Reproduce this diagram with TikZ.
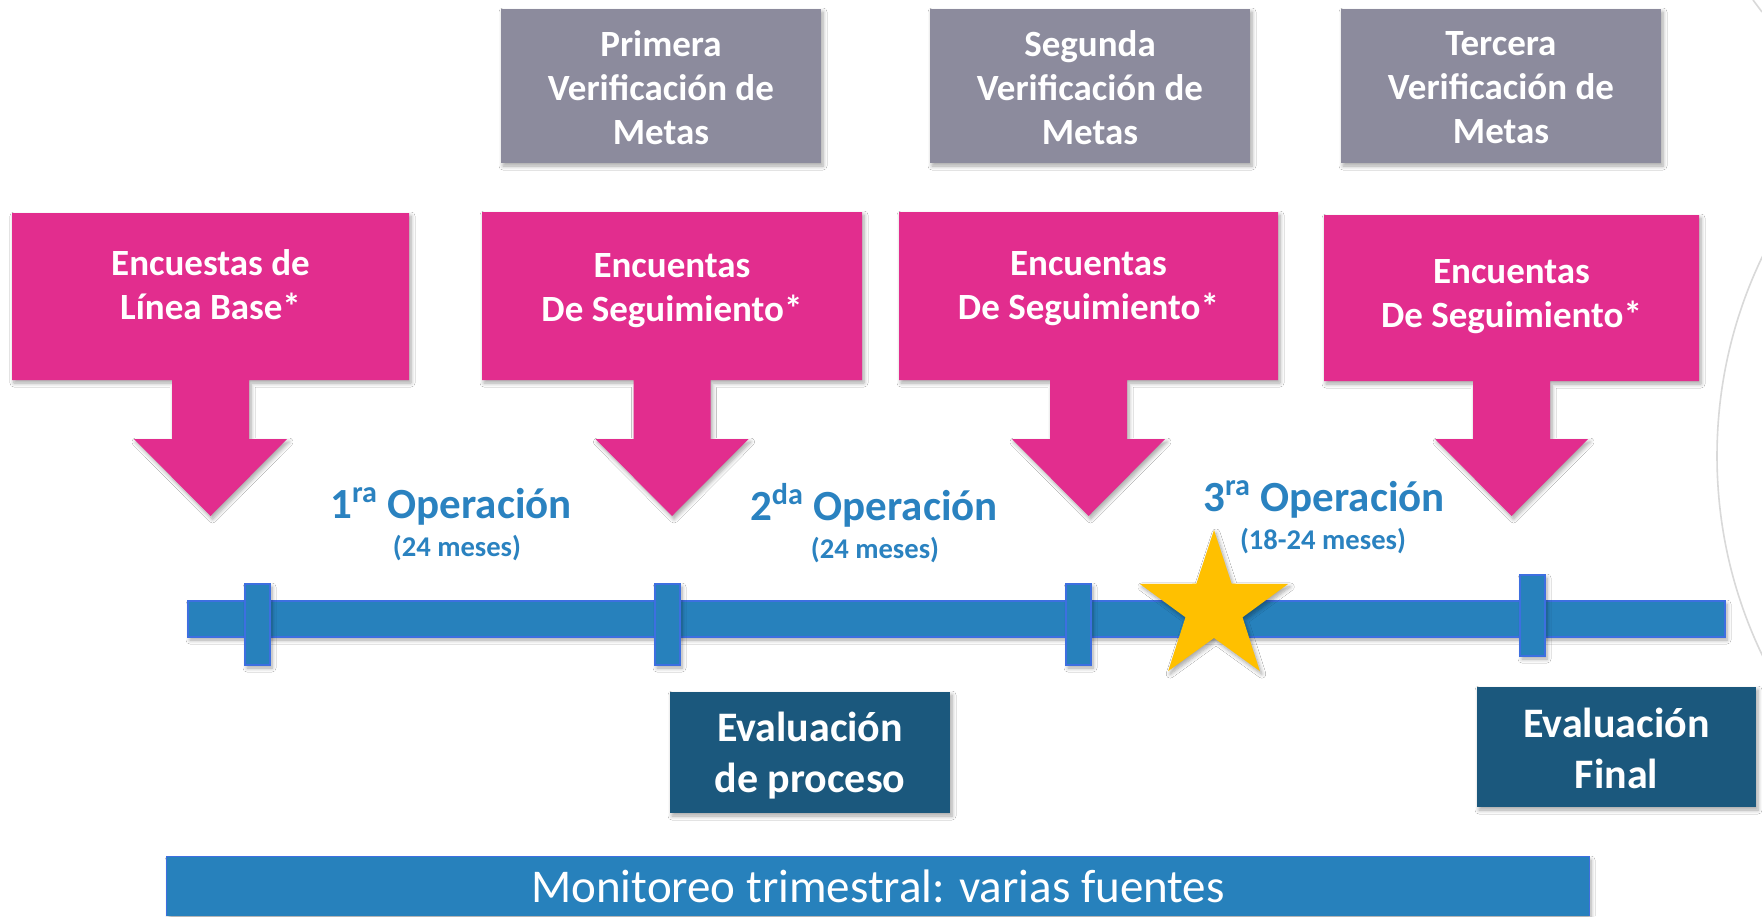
\documentclass[tikz,border=0pt]{standalone}
\usepackage{fontspec}
\setmainfont{Carlito}
\usetikzlibrary{shadows.blur}
\definecolor{pinkc}{HTML}{E22D8E}
\definecolor{greyc}{HTML}{8C8B9D}
\definecolor{barc}{HTML}{2781BC}
\definecolor{barline}{HTML}{3D6FE0}
\definecolor{darkc}{HTML}{1B587D}
\definecolor{opc}{HTML}{2A82C0}
\definecolor{starc}{HTML}{FFC000}
\definecolor{arcc}{HTML}{D9D9D9}
\newcommand\pinkcallout[5]{%
  \fill[pinkshape] (#1,#3) -- (#2,#3) -- (#2,#4) -- ({#5+38.5},#4) -- ({#5+38.5},439)
   -- ({#5+76.5},439) -- (#5,516) -- ({#5-76.5},439) -- ({#5-38.5},439)
   -- ({#5-38.5},#4) -- (#1,#4) -- cycle;}
\begin{document}
\begin{tikzpicture}[x=0.5pt,y=-0.5pt,
  shad/.style={blur shadow={shadow xshift=1pt,shadow yshift=-1.5pt,shadow opacity=35,shadow blur steps=6,shadow blur radius=2pt}},
  pinkshape/.style={fill=pinkc,shad},
  pinktext/.style={text=white,font=\bfseries\fontsize{18.5}{22}\selectfont,align=center,inner sep=0pt},
  greybox/.style={fill=greyc,shad,minimum width=160pt,minimum height=77pt,inner sep=0pt},
  darkbox/.style={fill=darkc,shad,inner sep=0pt},
  darktext/.style={text=white,inner sep=0pt,font=\bfseries\fontsize{21}{25.5}\selectfont,align=center},
  barstyle/.style={fill=barc,draw=barline,line width=0.7pt,shad,inner sep=0pt},
  tickstyle/.style={barstyle,minimum width=12.5pt,minimum height=40.5pt},
  optitle/.style={text=opc,font=\bfseries\fontsize{21.5}{26}\selectfont,inner sep=0pt,anchor=base},
  opsub/.style={text=opc,font=\bfseries\fontsize{14.3}{17}\selectfont,inner sep=0pt,anchor=base},
  starfill/.style={fill=starc,shad}
]
\fill[white] (0,0) rectangle (1762,916);
\useasboundingbox (0,0) rectangle (1762,916);

% light arcs on the right
\begin{scope}
  \clip (0,0) rectangle (1762,916);
  \draw[arcc,line width=0.8pt] (2177,456) circle[radius=230pt];
  \draw[arcc,line width=0.8pt] (1753,0) -- (1762,12);
\end{scope}

% grey boxes
\node[greybox] (g1) at (661,86) {};
\node[greybox] (g2) at (1090,86) {};
\node[greybox] (g3) at (1501,86) {};
\node[pinktext] (g1t) at (661,87.5) {Primera\\Verificación de\\Metas};
\node[pinktext] (g2t) at (1090,87.5) {Segunda\\Verificación de\\Metas};
\node[pinktext] (g3t) at (1501,87.5) {Tercera\\Verificación de\\Metas};

% pink callouts
\pinkcallout{12}{409}{213}{380}{210.5}
\pinkcallout{482}{862}{212}{380}{672}
\pinkcallout{899}{1278}{212}{380}{1088.5}
\pinkcallout{1324}{1699}{215}{381}{1511.5}
\node[pinktext] (p1) at (210.5,284.5) {Encuestas de\\Línea Base*};
\node[pinktext] (p2) at (672,290.5) {Encuentas\\De Seguimiento*};
\node[pinktext] (p3) at (1088.5,288.5) {Encuentas\\De Seguimiento*};
\node[pinktext] (p4) at (1511.5,296.5) {Encuentas\\De Seguimiento*};

% operation labels
\node[optitle] (op1) at (451,518) {1\textsuperscript{ra} Operación};
\node[opsub] (op1s) at (457,556) {(24 meses)};
\node[optitle] (op2) at (874,520) {2\textsuperscript{da} Operación};
\node[opsub] (op2s) at (875,558) {(24 meses)};
\node[optitle] (op3) at (1324,511) {3\textsuperscript{ra} Operación};
\node[opsub] (op3s) at (1323,549) {(18-24 meses)};

% timeline
\node[barstyle,minimum width=768.5pt,minimum height=18pt] (bar) at (956.5,619) {};
\node[tickstyle] (t1) at (257.5,624.5) {};
\node[tickstyle] (t2) at (667.5,624.5) {};
\node[tickstyle] (t3) at (1078.5,624.5) {};
\node[tickstyle] (t4) at (1532.5,615.5) {};

% star
\fill[starfill,shift={(1214,608)}] (270:78) -- (306:30) -- (342:78) -- (18:30) -- (54:78)
  -- (90:30) -- (126:78) -- (162:30) -- (198:78) -- (234:30) -- cycle;

% evaluation boxes
\node[darkbox,minimum width=140pt,minimum height=60.5pt] (e1) at (810,752.5) {};
\node[darkbox,minimum width=139.5pt,minimum height=60pt] (e2) at (1616.5,747) {};
\node[darktext] (e1t) at (810,756) {Evaluación\\de proceso};
\node[darktext] (e2t) at (1616.5,748.5) {Evaluación\\Final};

% monitoring bar
\node[fill=barc,shad,minimum width=711pt,minimum height=29.5pt,inner sep=0pt,text=white,
  font=\fontsize{23.5}{28}\selectfont] (mon) at (878,886.5) {\raisebox{-1pt}{Monitoreo trimestral: varias fuentes}};
\draw[barline,line width=0.8pt] (mon.south west) -- (mon.north west) -- (mon.north east) -- (mon.south east);
\end{tikzpicture}
\end{document}
